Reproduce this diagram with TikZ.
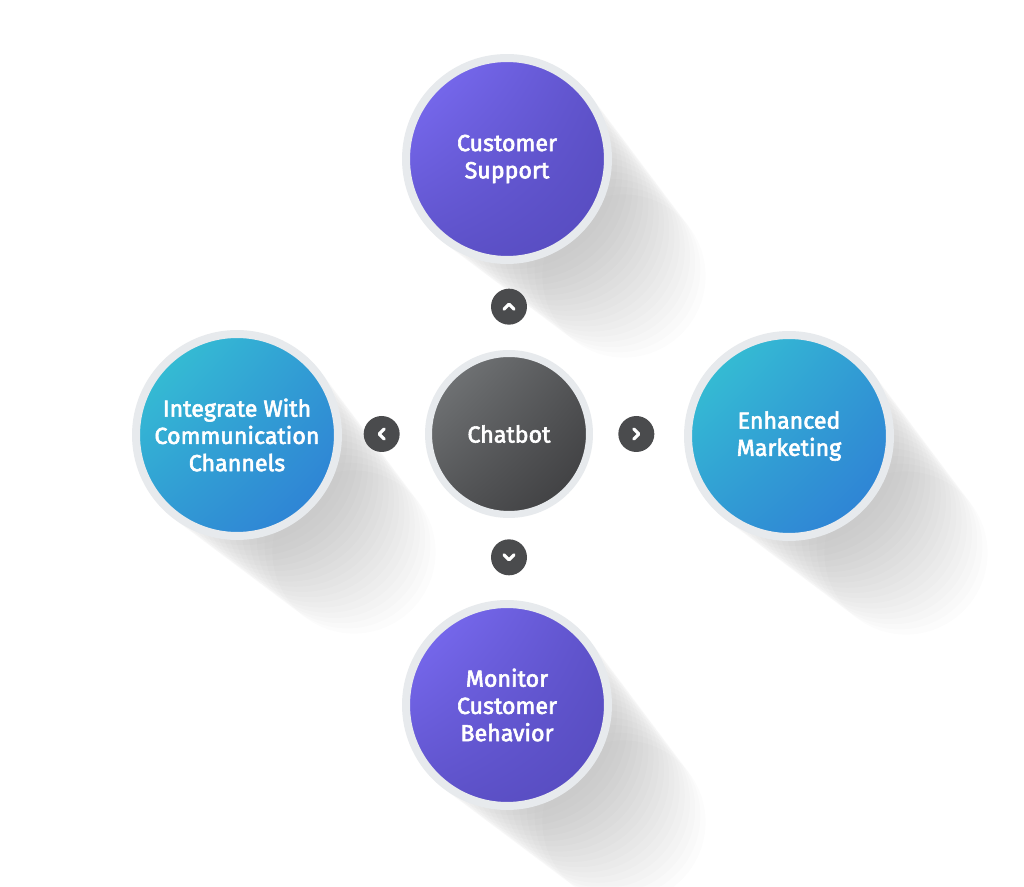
\documentclass[tikz,border=0pt]{standalone}
\usepackage{fontspec}
\newfontfamily\labelfont[FakeBold=2.6]{Fira Sans}
\usepackage{tikz}
\usetikzlibrary{positioning,backgrounds,calc,shadings}
\definecolor{ring}{HTML}{E7EAED}
\definecolor{violetA}{HTML}{7E6FF8}
\definecolor{violetB}{HTML}{564BBE}
\definecolor{tealA}{HTML}{36C9D3}
\definecolor{tealB}{HTML}{2E7BD5}
\definecolor{coreA}{HTML}{7A7D7F}
\definecolor{coreB}{HTML}{3A3A3C}
\definecolor{knob}{HTML}{4A4B4D}

\begin{document}
\begin{tikzpicture}[x=0.02cm, y=0.02cm,
  topic/.style={circle, draw=ring, line width=0.16cm, minimum size=4.04cm, inner sep=0pt, align=center, text=white, font=\labelfont\fontsize{13.2}{15.5}\selectfont},
  violet/.style={topic, shade, upper left=violetA, upper right=violetB!80!violetA, lower left=violetB!80!violetA, lower right=violetB},
  teal/.style={topic, shade, upper left=tealA, upper right=tealB!60!tealA, lower left=tealB!60!tealA, lower right=tealB},
  hubnode/.style={topic, shade, line width=0.14cm, minimum size=3.22cm, upper left=coreA, upper right=coreB!60!coreA, lower left=coreB!60!coreA, lower right=coreB},
  knobnode/.style={circle, fill=knob, minimum size=0.72cm, inner sep=0pt},
  chev/.style={white, line width=0.065cm, line cap=round, line join=round},
  drop/.style={fill=black!85, fill opacity=0.011},
  node distance=0.5cm
]
  \useasboundingbox (0,0) rectangle (1024,886);
  \node[hubnode] (hub) at (509,452) {Chatbot};
  \node[violet] (support) at (507,727) {Customer\\Support};
  \node[violet] (monitor) at (507,181) {Monitor\\Customer\\Behavior};
  \node[teal] (integrate) at (237,451) {Integrate With\\Communication\\Channels};
  \node[teal] (marketing) at (789,450) {Enhanced\\Marketing};

  \node[knobnode, above=of hub] (up) {};
  \node[knobnode, below=0.42cm of hub] (down) {};
  \node[knobnode, left=of hub] (west) {};
  \node[knobnode, right=of hub] (east) {};
  \draw[chev] ([shift={(-5,-2.5)}]up.center) -- ++(5,5) -- ++(5,-5);
  \draw[chev] ([shift={(-5,2.5)}]down.center) -- ++(5,-5) -- ++(5,5);
  \draw[chev] ([shift={(2.5,5)}]west.center) -- ++(-5,-5) -- ++(5,-5);
  \draw[chev] ([shift={(-2.5,5)}]east.center) -- ++(5,-5) -- ++(-5,-5);

  \begin{scope}[on background layer]
    \fill[white] (0,0) rectangle (1024,886);
    \foreach \n in {support,monitor,integrate,marketing}
      \foreach \k in {1,...,18}
        \fill[drop] ($(\n.center)+(6.5*\k,-6.5*\k)$) circle[radius=105-1.3*\k];
  \end{scope}
\end{tikzpicture}
\end{document}
